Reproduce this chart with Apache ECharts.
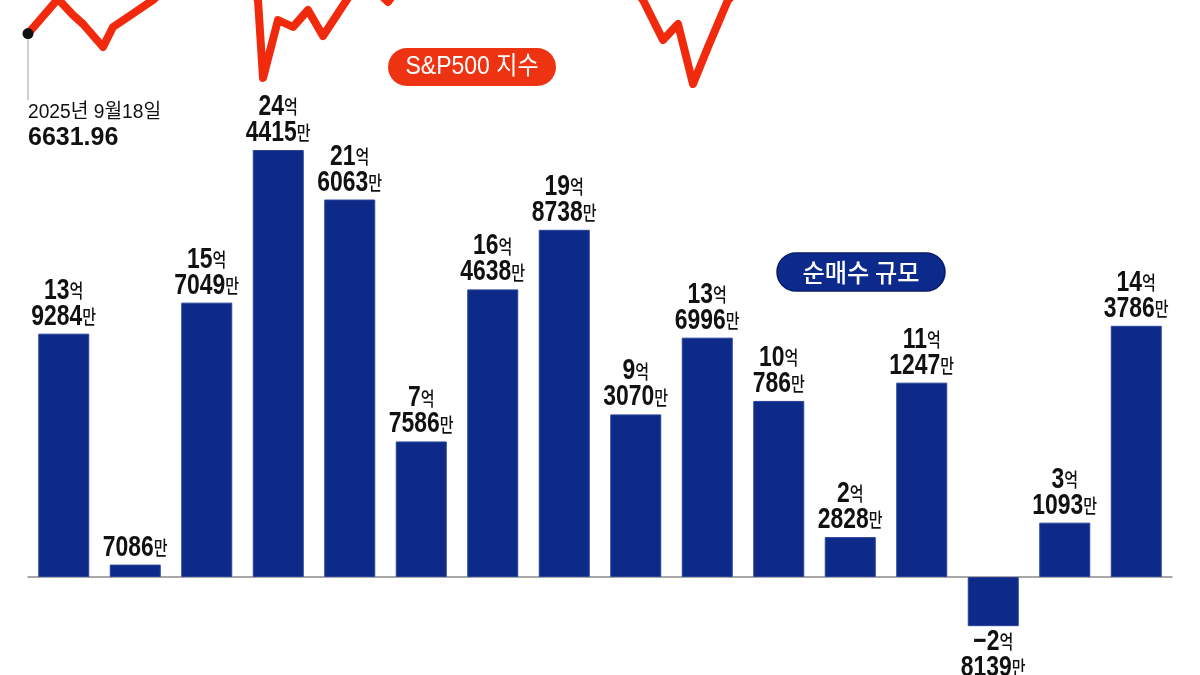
<!DOCTYPE html>
<html><head><meta charset="utf-8">
<script src="https://cdn.jsdelivr.net/npm/echarts@6/dist/echarts.min.js"></script>
<style>html,body{margin:0;padding:0;background:#fff}#c{width:1200px;height:675px}</style>
</head><body><div id="c"></div>
<script>
// Net purchase amounts, in 만 (10,000) units
const periods = ['1','2','3','4','5','6','7','8','9','10','11','12','13','14','15','16'];
const netBuy = [139284, 7086, 157049, 244415, 216063, 77586, 164638, 198738, 93070, 136996, 100786, 22828, 111247, -28139, 31093, 143786];

// S&P500 index line (trading-day index, index level); most of it runs above the visible area
const spDays   = [0, 6, 9, 11, 15, 17, 20, 25, 28, 33, 38, 42, 46, 47, 50, 53, 56, 59, 64, 67, 70, 72, 74, 80, 90, 100, 110, 118, 123, 127, 130, 133, 136, 140, 145, 160, 175, 190, 205, 226];
const spValues = [6631.96, 6805, 6725, 6680, 6565, 6665, 6715, 6800, 6870, 6930, 6890, 6950, 6800, 6410, 6700, 6665, 6750, 6620, 6810, 6880, 6840, 6790, 6860, 6960, 7010, 6970, 7030, 6960, 6800, 6600, 6680, 6380, 6565, 6800, 6920, 7010, 7060, 7040, 7100, 7090];
const startDate = '2025년 9월18일';
const startValue = '6631.96';

const NUM_FONT = "'Liberation Sans','Noto Sans CJK KR',sans-serif";
const KR_FONT = "'Noto Sans CJK KR','Noto Sans',sans-serif";

function fmt(v) {
  const neg = v < 0;
  const a = Math.abs(v);
  const eok = Math.floor(a / 10000);
  const man = a % 10000;
  const sign = neg ? '−' : '';
  if (eok === 0) return '{n|' + sign + man + '}{u|만}';
  return '{n|' + sign + eok + '}{u|억}\n{n|' + man + '}{u|만}';
}

const labelRich = {
  n: {fontFamily: NUM_FONT, fontSize: 29, fontWeight: 'bold', fill: '#111', lineHeight: 26},
  u: {fontFamily: KR_FONT, fontSize: 19, fontWeight: 500, fill: '#111', lineHeight: 26}
};

const chart = echarts.init(document.getElementById('c'));
chart.setOption({
  animation: false,
  backgroundColor: '#fff',
  grid: [
    {left: 28, right: 28, top: 140.25, height: 524.1},
    {left: 28, right: 42, top: 0, height: 100}
  ],
  xAxis: [
    {type: 'category', data: periods, gridIndex: 0,
     axisLine: {show: true, lineStyle: {color: '#8a8a8a', width: 1.5}},
     axisTick: {show: false}, axisLabel: {show: false}, splitLine: {show: false}},
    {type: 'value', gridIndex: 1, min: 0, max: 226, show: false}
  ],
  yAxis: [
    {type: 'value', gridIndex: 0, min: -50000, max: 250000, show: false, splitLine: {show: false}},
    {type: 'value', gridIndex: 1, min: 6300, max: 6800, show: false, splitLine: {show: false}}
  ],
  series: [
    {
      type: 'bar', xAxisIndex: 0, yAxisIndex: 0, barWidth: 51,
      data: netBuy,
      itemStyle: {color: '#0e2a88', borderColor: '#2a4399', borderWidth: 1}
    },
    {
      // value labels (condensed) placed through the bar grid's scales
      type: 'custom', xAxisIndex: 0, yAxisIndex: 0, z: 10,
      data: netBuy.map((v, i) => [i, v]),
      encode: {x: 0, y: 1},
      renderItem: (params, api) => {
        const v = api.value(1);
        const p = api.coord([api.value(0), v]);
        const neg = v < 0;
        return {
          type: 'text', x: p[0], y: neg ? p[1] + 3 : p[1] - 4, scaleX: 0.79,
          style: {text: fmt(v), rich: labelRich, align: 'center',
                  verticalAlign: neg ? 'top' : 'bottom', fill: '#111'}
        };
      }
    },
    {
      type: 'line', xAxisIndex: 1, yAxisIndex: 1, clip: true,
      data: spDays.map((d, i) => i === 0
        ? {value: [d, spValues[i]], symbol: 'circle', symbolSize: 11, itemStyle: {color: '#111'}}
        : [d, spValues[i]]),
      symbol: 'none', showSymbol: true,
      lineStyle: {color: '#f22a0d', width: 8, join: 'round', cap: 'round'},
      z: 5,
      markLine: {
        silent: true, symbol: 'none', label: {show: false},
        lineStyle: {color: '#cfcfcf', width: 2, type: 'solid'},
        data: [[{coord: [spDays[0], spValues[0]]}, {coord: [spDays[0], 6300]}]]
      }
    }
  ],
  graphic: [
    {type: 'text', x: 28, y: 102, scaleX: 0.96, style: {text: startDate, fontFamily: NUM_FONT, fontSize: 20, fill: '#111'}},
    {type: 'text', x: 28, y: 126, style: {text: startValue, fontFamily: NUM_FONT, fontSize: 25, fontWeight: 'bold', fill: '#111'}},
    {type: 'rect', shape: {x: 388, y: 48, width: 168, height: 38, r: 19}, style: {fill: '#ee3312'}},
    {type: 'text', x: 472, y: 67, scaleX: 0.92, style: {text: 'S&P500 지수', fontFamily: "'Liberation Sans','Noto Sans CJK KR',sans-serif", fontSize: 25, fill: '#fff', align: 'center', verticalAlign: 'middle'}},
    {type: 'rect', shape: {x: 777, y: 253, width: 168, height: 38, r: 19}, style: {fill: '#0c2a8c', stroke: '#061a66', lineWidth: 1.5}},
    {type: 'text', x: 861, y: 272, scaleX: 0.97, style: {text: '순매수 규모', fontFamily: KR_FONT, fontSize: 25, fontWeight: 500, fill: '#fff', align: 'center', verticalAlign: 'middle'}}
  ]
});
</script>
</body></html>
